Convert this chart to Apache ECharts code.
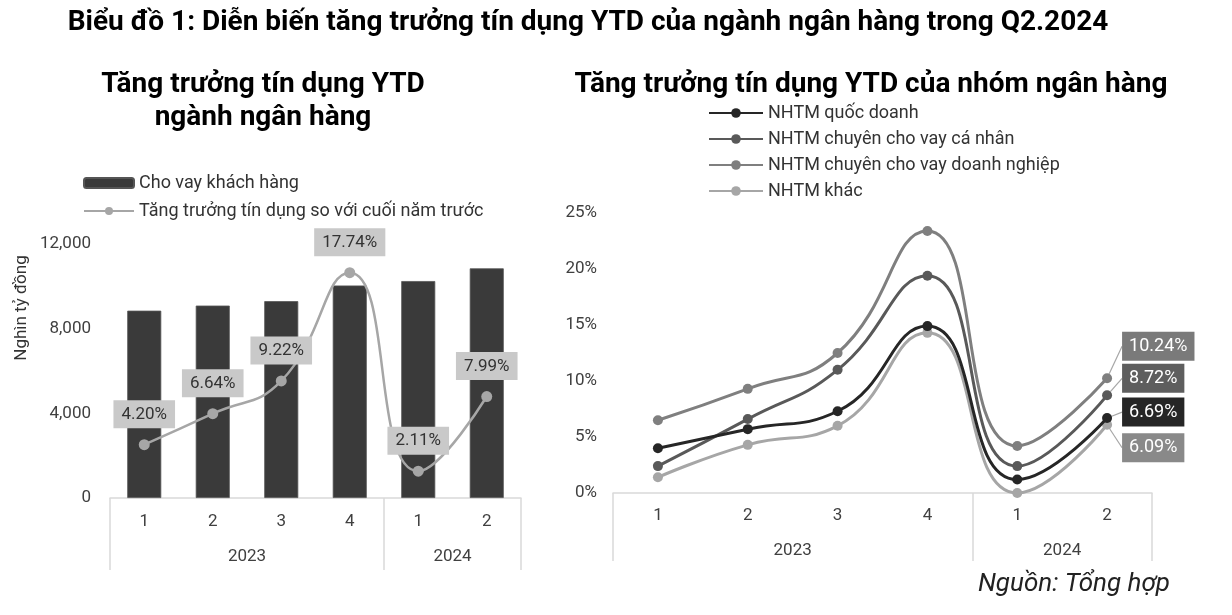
<!DOCTYPE html>
<html>
<head>
<meta charset="utf-8">
<script src="https://cdn.jsdelivr.net/npm/echarts@6/dist/echarts.min.js"></script>
<style>html,body{margin:0;padding:0;background:#fff}#c{width:1232px;height:615px}</style>
</head>
<body>
<div id="c"></div>
<script>
// ---------- data ----------
const quarters = ['1', '2', '3', '4', '1', '2'];
const years = ['2023', '2024'];
const quartersPerYear = [4, 2];

const loanValues = [8850, 9090, 9300, 10040, 10250, 10850];          // Nghìn tỷ đồng
const creditGrowth = [4.20, 6.64, 9.22, 17.74, 2.11, 7.99];          // %

const groupNames = ['NHTM quốc doanh', 'NHTM chuyên cho vay cá nhân', 'NHTM chuyên cho vay doanh nghiệp', 'NHTM khác'];
const stateOwned = [4.0, 5.7, 7.3, 14.9, 1.2, 6.69];
const retailBanks = [2.4, 6.6, 11.0, 19.4, 2.4, 8.72];
const corporateBanks = [6.5, 9.3, 12.5, 23.4, 4.2, 10.24];
const otherBanks = [1.4, 4.3, 6.0, 14.3, 0.0, 6.09];

const leftTicks = [0, 4000, 8000, 12000];
const rightTicks = [0, 5, 10, 15, 20, 25];

// ---------- helpers ----------
const FONT = 'Roboto, "Noto Sans", sans-serif';
const slots = quartersPerYear.reduce((a, b) => a + b, 0) * 2;
const yearSlotData = new Array(slots + 1).fill('');
const sepIdx = [0];
let acc = 0;
quartersPerYear.forEach((n, i) => {
  yearSlotData[acc * 2 + n] = years[i];
  acc += n;
  sepIdx.push(acc * 2);
});

function catAxis(gridIndex, labelMargin) {
  return {
    type: 'category', gridIndex, data: quarters,
    axisLine: {show: true, lineStyle: {color: '#d9d9d9', width: 1.5}},
    axisTick: {show: false},
    axisLabel: {interval: 0, margin: labelMargin, fontSize: 17, color: '#404040', fontFamily: FONT}
  };
}
function yearAxis(gridIndex, tickLen, labelMargin) {
  return {
    type: 'category', gridIndex, data: yearSlotData, boundaryGap: false, position: 'bottom',
    axisLine: {show: false},
    axisTick: {show: true, length: tickLen, interval: (i) => sepIdx.indexOf(i) >= 0, lineStyle: {color: '#d9d9d9', width: 1.5}},
    axisLabel: {interval: 0, margin: labelMargin, fontSize: 17, color: '#404040', fontFamily: FONT},
    splitLine: {show: false}
  };
}

const lineColors = ['#262626', '#595959', '#7f7f7f', '#a6a6a6'];
const labelBg = ['#262626', '#5e5e5e', '#7a7a7a', '#898989'];
const labelDy = [-6, -17, -32, 23];
const groupData = [stateOwned, retailBanks, corporateBanks, otherBanks];

const groupSeries = groupData.map((arr, s) => ({
  name: groupNames[s], type: 'line', xAxisIndex: 2, yAxisIndex: 2,
  smooth: 0.5, symbol: 'circle', symbolSize: 10,
  lineStyle: {color: lineColors[s], width: 3},
  itemStyle: {color: lineColors[s]},
  z: 10 - s,
  data: arr.map((v, i) => i === arr.length - 1 ? {
    value: v,
    label: {
      show: true, position: 'right', distance: 10,
      formatter: (p) => p.value.toFixed(2) + '%',
      backgroundColor: labelBg[s], color: '#ffffff', padding: [6, 7, 5, 7],
      fontSize: 18, fontFamily: FONT
    }
  } : v),
  labelLayout: {dy: labelDy[s]},
  labelLine: {show: true, lineStyle: {color: '#a6a6a6', width: 1.2}}
}));

const option = {
  animation: false,
  backgroundColor: '#ffffff',
  title: [
    {text: 'Biểu đồ 1: Diễn biến tăng trưởng tín dụng YTD của ngành ngân hàng trong Q2.2024', left: 583, top: 4, textAlign: 'center',
     textStyle: {fontSize: 28, fontWeight: 'bold', color: '#000', fontFamily: FONT}},
    {text: 'Tăng trưởng tín dụng YTD\nngành ngân hàng', left: 258, top: 63, textAlign: 'center',
     textStyle: {fontSize: 28, fontWeight: 'bold', color: '#000', lineHeight: 33, fontFamily: FONT}},
    {text: 'Tăng trưởng tín dụng YTD của nhóm ngân hàng', left: 866, top: 63, textAlign: 'center',
     textStyle: {fontSize: 28, fontWeight: 'bold', color: '#000', lineHeight: 33, fontFamily: FONT}},
    {text: 'Nguồn: Tổng hợp', right: 57, top: 566,
     textStyle: {fontSize: 26, fontWeight: 'normal', fontStyle: 'italic', color: '#222', fontFamily: FONT}}
  ],
  legend: [
    {orient: 'vertical', left: 78, top: 169, itemWidth: 50, itemHeight: 10, itemGap: 10,
     data: ['Cho vay khách hàng', 'Tăng trưởng tín dụng so với cuối năm trước'],
     textStyle: {fontSize: 18, color: '#333', fontFamily: FONT}},
    {orient: 'vertical', left: 703, top: 99, itemWidth: 54, itemHeight: 12, itemGap: 8,
     data: groupNames,
     textStyle: {fontSize: 18, color: '#333', fontFamily: FONT}}
  ],
  grid: [
    {left: 110, top: 244, width: 411, height: 254},
    {left: 613, top: 213, width: 539, height: 280}
  ],
  xAxis: [
    catAxis(0, 15),
    yearAxis(0, 72, 50),
    catAxis(1, 14),
    yearAxis(1, 68, 49)
  ],
  yAxis: [
    {type: 'value', gridIndex: 0, min: leftTicks[0], max: leftTicks[leftTicks.length - 1], interval: leftTicks[1] - leftTicks[0],
     name: 'Nghìn tỷ đồng', nameLocation: 'middle', nameGap: 80,
     nameTextStyle: {fontSize: 17, color: '#333', fontFamily: FONT, padding: [0, 0, 0, 126]},
     axisLine: {show: false}, axisTick: {show: false}, splitLine: {show: false},
     axisLabel: {margin: 19, fontSize: 17, color: '#404040', fontFamily: FONT,
       formatter: (v) => v.toLocaleString('en-US')}},
    {type: 'value', gridIndex: 0, min: 0, max: 20, show: false, splitLine: {show: false}},
    {type: 'value', gridIndex: 1, min: rightTicks[0], max: rightTicks[rightTicks.length - 1], interval: rightTicks[1] - rightTicks[0],
     axisLine: {show: false}, axisTick: {show: false}, splitLine: {show: false},
     axisLabel: {margin: 16, fontSize: 17, color: '#404040', fontFamily: FONT, formatter: '{value}%'}}
  ],
  series: [
    {name: 'Cho vay khách hàng', type: 'bar', xAxisIndex: 0, yAxisIndex: 0, barWidth: 34,
     itemStyle: {color: '#3a3a3a', borderColor: '#555', borderWidth: 0.8},
     data: loanValues},
    {name: 'Tăng trưởng tín dụng so với cuối năm trước', type: 'line', xAxisIndex: 0, yAxisIndex: 1,
     smooth: 0.5, symbol: 'circle', symbolSize: 11,
     lineStyle: {color: '#a6a6a6', width: 2.5}, itemStyle: {color: '#a6a6a6'},
     label: {show: true, position: 'top', distance: 11, formatter: (p) => p.value.toFixed(2) + '%',
       backgroundColor: '#c9c9c9', color: '#333', padding: [6, 8, 5, 8], fontSize: 17, fontFamily: FONT},
     data: creditGrowth, z: 5},
    ...groupSeries
  ]
};

const chart = echarts.init(document.getElementById('c'), null, {renderer: 'canvas'});
chart.setOption(option);
</script>
</body>
</html>
